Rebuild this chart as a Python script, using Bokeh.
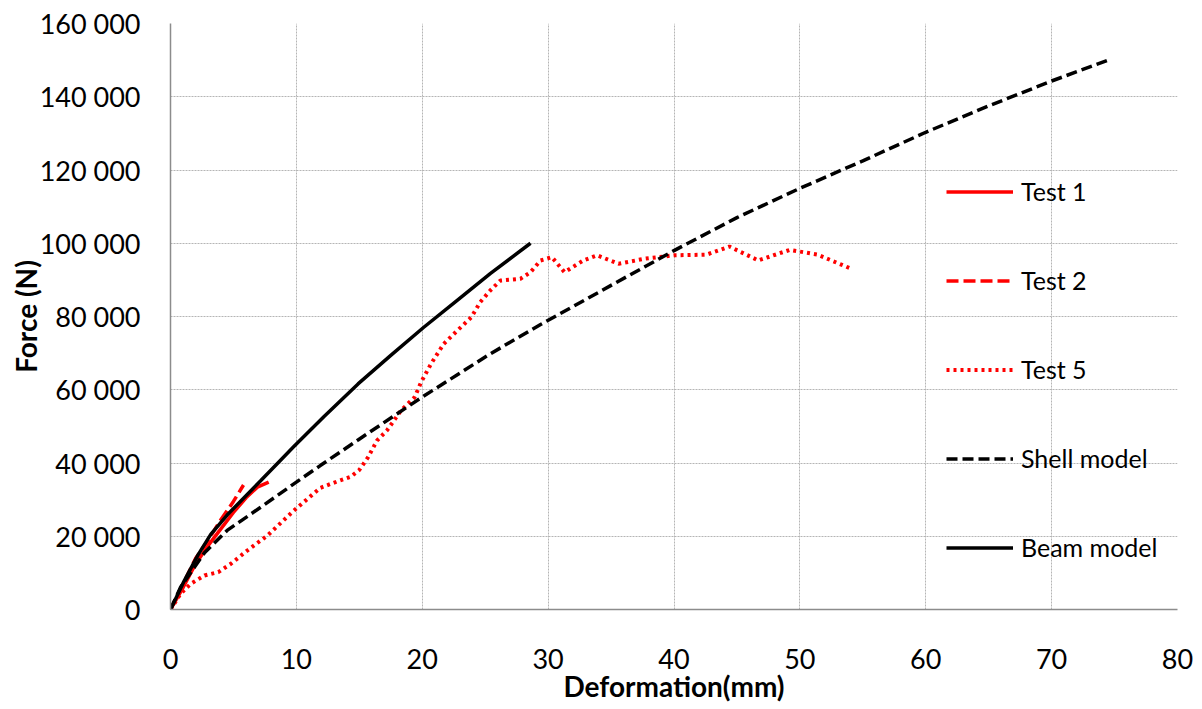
from bokeh.plotting import figure
from bokeh.models import Range1d, Legend, LegendItem, FixedTicker
from bokeh.embed import file_html
from bokeh.resources import INLINE

# ---- data ----
test1_x = [0, 1.0, 2.0, 3.0, 4.0, 5.0, 6.0, 6.9, 7.8]
test1_y = [0, 6000, 12500, 17500, 22000, 26500, 30500, 33400, 34800]

test2_x = [0, 1.0, 2.0, 3.0, 4.0, 5.0, 5.8]
test2_y = [0, 7000, 14000, 19000, 24500, 29500, 34000]

test5_x = [0, 0.8, 1.6, 2.7, 3.8, 4.8, 6.1, 7.7, 9.8, 11.9, 13.2, 14.3, 15.0, 15.7,
           16.4, 17.2, 18.3, 19.4, 19.9, 20.7, 21.7, 22.8, 23.9, 24.6, 25.4, 26.2,
           27.8, 28.6, 29.4, 30.3, 31.3, 32.8, 33.9, 35.6, 37.7, 40.0, 42.6, 44.4,
           46.7, 49.2, 51.4, 54.1]
test5_y = [0, 4300, 7000, 9300, 10200, 12500, 16100, 20200, 27000, 33200, 34900,
           36200, 38100, 41600, 46100, 48900, 54300, 58000, 62000, 67100, 72500,
           76200, 79800, 83900, 87100, 89800, 90300, 92100, 95300, 96200, 92100,
           95300, 96700, 94400, 95800, 96700, 96900, 99100, 95300, 98200, 96900,
           93000]

shell_x = [0, 0.8, 1.9, 2.7, 4.5, 7.2, 9.8, 11.9, 14.9, 19.9, 25.4, 29.4, 35, 40,
           45, 50, 55, 60, 65, 70, 74.5]
shell_y = [0, 6100, 11500, 15500, 21600, 28000, 34300, 39300, 46300, 57800, 69800,
           77800, 88500, 98000, 107000, 115000, 122500, 130300, 137500, 144300,
           150000]

beam_x = [0, 1.1, 2.2, 3.2, 4.5, 7.2, 9.8, 12.2, 14.9, 17.5, 20.1, 22.8, 25.4, 28.6]
beam_y = [0, 7900, 15000, 20500, 25800, 35300, 44500, 52700, 61600, 69400, 77000,
          84500, 91700, 100000]

x_ticks = [0, 10, 20, 30, 40, 50, 60, 70, 80]
y_ticks = [0, 20000, 40000, 60000, 80000, 100000, 120000, 140000, 160000]
y_tick_labels = ["0", "20 000", "40 000", "60 000", "80 000", "100 000",
                 "120 000", "140 000", "160 000"]

FONT = "Lato"

p = figure(width=1202, height=709, output_backend="svg", toolbar_location=None,
           x_range=Range1d(0, 80), y_range=Range1d(0, 160000),
           min_border_left=170, min_border_right=25, min_border_top=23,
           min_border_bottom=100)
p.outline_line_color = None
p.background_fill_color = "white"
p.border_fill_color = "white"

for ax in (p.xaxis[0], p.yaxis[0]):
    ax.major_tick_line_color = None
    ax.minor_tick_line_color = None
    ax.major_tick_in = 0
    ax.major_tick_out = 0
    ax.minor_tick_in = 0
    ax.minor_tick_out = 0
    ax.axis_line_color = "#8c8c8c"
    ax.axis_line_width = 1.5
    ax.major_label_text_font = FONT
    ax.major_label_text_font_size = "27px"
    ax.major_label_text_color = "black"
    ax.axis_label_text_font = FONT
    ax.axis_label_text_font_size = "28px"
    ax.axis_label_text_font_style = "bold"
    ax.axis_label_text_color = "black"

p.xaxis[0].ticker = FixedTicker(ticks=x_ticks)
p.yaxis[0].ticker = FixedTicker(ticks=y_ticks)
p.yaxis[0].major_label_overrides = {t: l for t, l in zip(y_ticks, y_tick_labels)}
p.xaxis[0].axis_label = "Deformation(mm)"
p.yaxis[0].axis_label = "Force (N)"
p.xaxis[0].major_label_standoff = 39
p.xaxis[0].axis_label_standoff = -3
p.yaxis[0].major_label_standoff = 30
p.yaxis[0].axis_label_standoff = -6

for g in (p.xgrid[0], p.ygrid[0]):
    g.grid_line_color = "#b5b5b5"
    g.grid_line_dash = "2 1"
    g.grid_line_width = 1

r1 = p.line(test1_x, test1_y, line_color="#ff0000", line_width=3.5)
r2 = p.line(test2_x, test2_y, line_color="#ff0000", line_width=3.5, line_dash="12 5")
r5 = p.line(test5_x, test5_y, line_color="#ff0000", line_width=4, line_dash="3 4")
rs = p.line(shell_x, shell_y, line_color="black", line_width=3.5, line_dash="11 5")
rb = p.line(beam_x, beam_y, line_color="black", line_width=3.5)

legend = Legend(items=[
    LegendItem(label="Test 1", renderers=[r1]),
    LegendItem(label="Test 2", renderers=[r2]),
    LegendItem(label="Test 5", renderers=[r5]),
    LegendItem(label="Shell model", renderers=[rs]),
    LegendItem(label="Beam model", renderers=[rb]),
], location=(776, 47))
legend.background_fill_alpha = 0
legend.border_line_color = None
legend.padding = 0
legend.margin = 0
legend.spacing = 59
legend.label_height = 25
legend.glyph_height = 25
legend.glyph_width = 67
legend.label_standoff = 8
legend.label_text_font = FONT
legend.label_text_font_size = "25px"
legend.label_text_color = "black"
p.add_layout(legend, "center")

open("out.html", "w").write(file_html(p, INLINE))
